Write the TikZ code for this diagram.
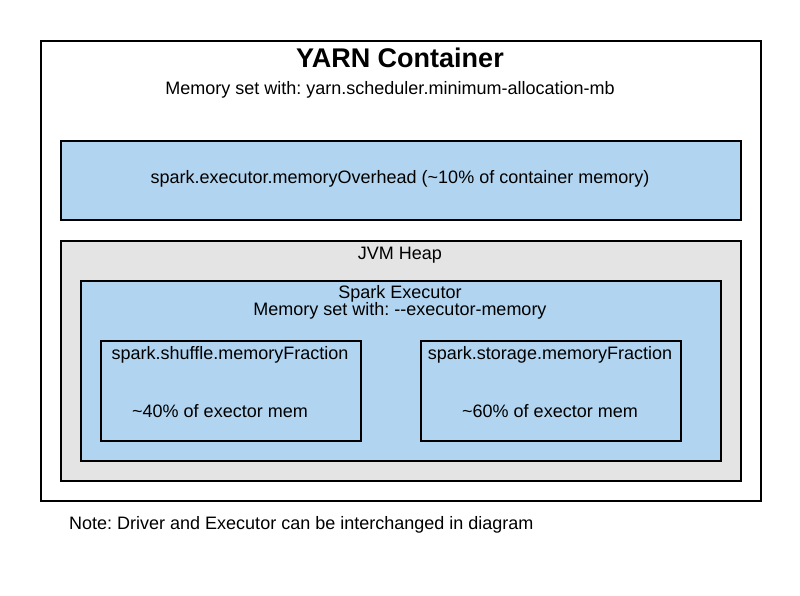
\documentclass[tikz,border=0pt]{standalone}
\usepackage{fontspec}
\setmainfont{Liberation Sans}
\usepackage{xcolor}
\definecolor{memblue}{RGB}{177,213,240}
\definecolor{heapgray}{RGB}{228,228,228}
\frenchspacing
\tikzset{
	membox/.style={draw=black, line width=1.5pt, anchor=north west, inner sep=0pt},
	memtext/.style={font=\fontsize{18}{21}\selectfont, inner sep=0pt}
}
\begin{document}
\begin{tikzpicture}[x=1pt, y=-1pt]
						\useasboundingbox (0, 0) rectangle (800, 595);
						\node[membox, fill=white, minimum width=720pt, minimum height=460pt] (yarn) at (40, 40) {};
						\node[memtext, font=\bfseries\fontsize{27}{31}\selectfont] (yarntitle) at (400, 58) {YARN Container};
						\node[memtext] (yarnmem) at (390, 90) {Memory set with: yarn.scheduler.minimum-allocation-mb};
						\node[membox, fill=memblue, minimum width=680pt, minimum height=79pt] (overhead) at (60, 140) {};
						\node[memtext] (overheadtext) at (400, 179) {spark.executor.memoryOverhead (\textasciitilde10\% of container memory)};
						\node[membox, fill=heapgray, minimum width=680pt, minimum height=240pt] (heap) at (60, 240) {};
						\node[memtext] (heaptext) at (400, 255) {JVM Heap};
						\node[membox, fill=memblue, minimum width=640pt, minimum height=180pt] (executor) at (80, 280) {};
						\node[memtext] (executortext) at (400, 294) {Spark Executor};
						\node[memtext] (executormem) at (400, 311) {Memory set with: -{}-executor-memory};
						\node[membox, fill=memblue, minimum width=260pt, minimum height=100pt] (shuffle) at (100, 340) {};
						\node[memtext] (shuffletext) at (230, 355) {spark.shuffle.memoryFraction};
						\node[memtext] (shufflepct) at (220, 411) {\textasciitilde40\% of exector mem};
						\node[membox, fill=memblue, minimum width=260pt, minimum height=100pt] (storage) at (420, 340) {};
						\node[memtext] (storagetext) at (550, 355) {spark.storage.memoryFraction};
						\node[memtext] (storagepct) at (550, 411) {\textasciitilde60\% of exector mem};
						\node[memtext, anchor=west] (note) at (69, 525) {Note: Driver and Executor can be interchanged in diagram};
					\end{tikzpicture}
\end{document}
